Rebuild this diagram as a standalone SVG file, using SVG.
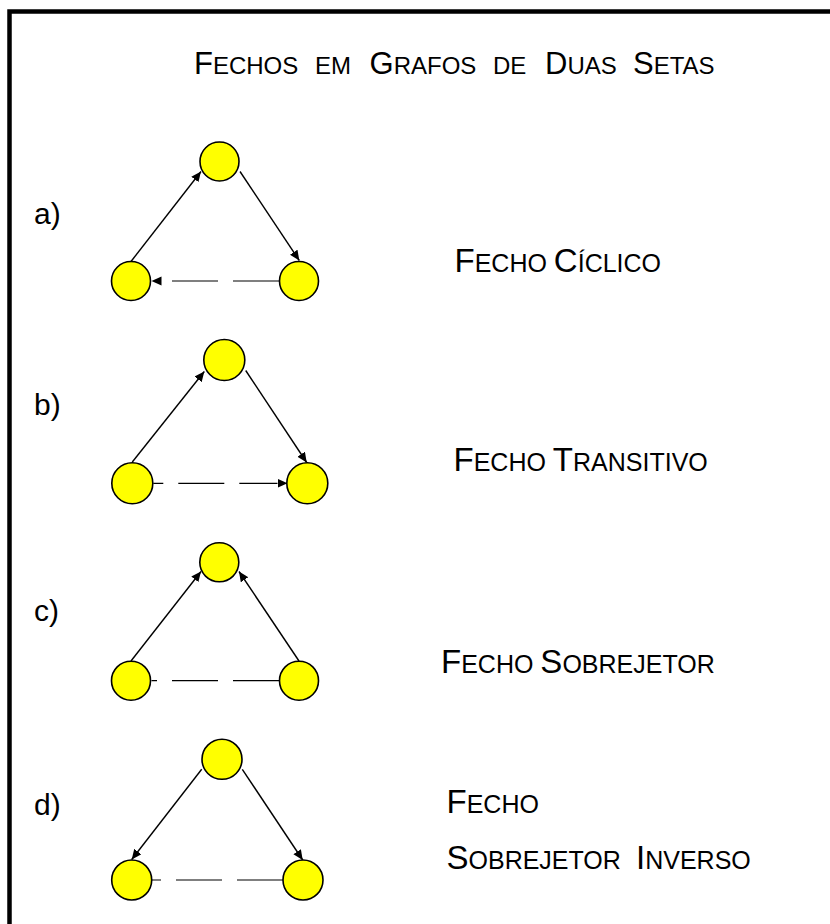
<svg xmlns="http://www.w3.org/2000/svg" width="830" height="924" viewBox="0 0 830 924">
  <defs>
    <marker id="arrow" markerUnits="userSpaceOnUse" markerWidth="11" markerHeight="10" refX="10" refY="4.5" orient="auto">
      <path d="M0,0 L10,4.5 L0,9 Z" fill="#000"/>
    </marker>
    <style>
      .node { fill: #FFFF00; stroke: #000; stroke-width: 1.6; }
      .edge { stroke: #000; stroke-width: 1.4; fill: none; marker-end: url(#arrow); }
      .dash { stroke: #000; stroke-width: 1.2; fill: none; stroke-dasharray: 46 15; }
      .txt { font-family: "Liberation Sans", Arial, sans-serif; fill: #000; }
      .cap { font-size: 33px; }
      .sc { font-size: 25px; }
      .tcap { font-size: 31px; }
      .tsc { font-size: 24px; }
      .tag { font-size: 30px; }
    </style>
  </defs>

  <rect x="0" y="0" width="830" height="924" fill="#fff"/>
  <!-- outer frame (right and bottom sides run past the page edge) -->
  <rect x="9.5" y="11.5" width="840" height="940" fill="none" stroke="#000" stroke-width="4.5"/>

  <!-- title -->
  <g id="title" class="txt">
    <text x="194" y="74"><tspan class="tcap">F</tspan><tspan class="tsc">ECHOS</tspan></text>
    <text x="315" y="74" class="tsc">EM</text>
    <text x="369.5" y="74"><tspan class="tcap">G</tspan><tspan class="tsc">RAFOS</tspan></text>
    <text x="493" y="74" class="tsc">DE</text>
    <text x="545" y="74"><tspan class="tcap">D</tspan><tspan class="tsc">UAS</tspan></text>
    <text x="633" y="74"><tspan class="tcap">S</tspan><tspan class="tsc">ETAS</tspan></text>
  </g>

  <!-- row labels -->
  <g id="tags" class="txt tag">
    <text x="34" y="224">a)</text>
    <text x="34" y="415">b)</text>
    <text x="34" y="621">c)</text>
    <text x="34" y="815">d)</text>
  </g>

  <!-- connectors -->
  <g id="connectors">
    <!-- a) cyclic -->
    <line class="edge" x1="131" y1="261.5" x2="201" y2="171.5"/>
    <line class="edge" x1="240" y1="171.5" x2="299.3" y2="260.5"/>
    <line class="dash" x1="279" y1="281" x2="162" y2="281"/>
    <line class="edge" x1="162.5" y1="281" x2="151.5" y2="281" style="stroke:none"/>
    <!-- b) transitive -->
    <line class="edge" x1="132.3" y1="462" x2="204.3" y2="371.5"/>
    <line class="edge" x1="245.7" y1="370.5" x2="306.7" y2="462.5"/>
    <line class="dash" x1="153.3" y1="483.3" x2="277.5" y2="483.3" style="stroke-dashoffset:36"/>
    <line class="edge" x1="276" y1="483.3" x2="287.5" y2="483.3" style="stroke:none"/>
    <!-- c) surjective -->
    <line class="edge" x1="131" y1="661" x2="201" y2="571.5"/>
    <line class="edge" x1="299" y1="661" x2="239" y2="571.5"/>
    <line class="dash" x1="279" y1="680.7" x2="151.5" y2="680.7"/>
    <!-- d) inverse surjective -->
    <line class="edge" x1="201.7" y1="769.3" x2="131.7" y2="859.5"/>
    <line class="edge" x1="242.3" y1="769.3" x2="302.7" y2="860"/>
    <line class="dash" x1="283" y1="880" x2="151.7" y2="880"/>
  </g>

  <!-- nodes -->
  <g id="a-top"><circle class="node" cx="219.5" cy="161.5" r="19.5"/></g>
  <g id="a-left"><circle class="node" cx="131" cy="281" r="19.5"/></g>
  <g id="a-right"><circle class="node" cx="299" cy="281" r="19.5"/></g>

  <g id="b-top"><circle class="node" cx="224.3" cy="360" r="20.5"/></g>
  <g id="b-left"><circle class="node" cx="132.3" cy="483.3" r="20.5"/></g>
  <g id="b-right"><circle class="node" cx="307.3" cy="483.3" r="20.5"/></g>

  <g id="c-top"><circle class="node" cx="219.3" cy="562.3" r="19.5"/></g>
  <g id="c-left"><circle class="node" cx="131" cy="680.7" r="19.5"/></g>
  <g id="c-right"><circle class="node" cx="299" cy="680.7" r="19.5"/></g>

  <g id="d-top"><circle class="node" cx="222" cy="759.3" r="20"/></g>
  <g id="d-left"><circle class="node" cx="131.7" cy="880" r="20"/></g>
  <g id="d-right"><circle class="node" cx="303" cy="880" r="20"/></g>

  <!-- closure names -->
  <g id="label-a" class="txt">
    <text x="454.5" y="272"><tspan class="cap">F</tspan><tspan class="sc">ECHO </tspan><tspan class="cap">C</tspan><tspan class="sc">ÍCLICO</tspan></text>
  </g>
  <g id="label-b" class="txt">
    <text x="453.5" y="471"><tspan class="cap">F</tspan><tspan class="sc">ECHO </tspan><tspan class="cap">T</tspan><tspan class="sc">RANSITIVO</tspan></text>
  </g>
  <g id="label-c" class="txt">
    <text x="441" y="673"><tspan class="cap">F</tspan><tspan class="sc">ECHO </tspan><tspan class="cap">S</tspan><tspan class="sc">OBREJETOR</tspan></text>
  </g>
  <g id="label-d" class="txt">
    <text x="446.5" y="813"><tspan class="cap">F</tspan><tspan class="sc">ECHO</tspan></text>
    <text x="446.5" y="869"><tspan class="cap">S</tspan><tspan class="sc">OBREJETOR</tspan></text>
    <text x="636" y="869"><tspan class="cap">I</tspan><tspan class="sc">NVERSO</tspan></text>
  </g>
</svg>
